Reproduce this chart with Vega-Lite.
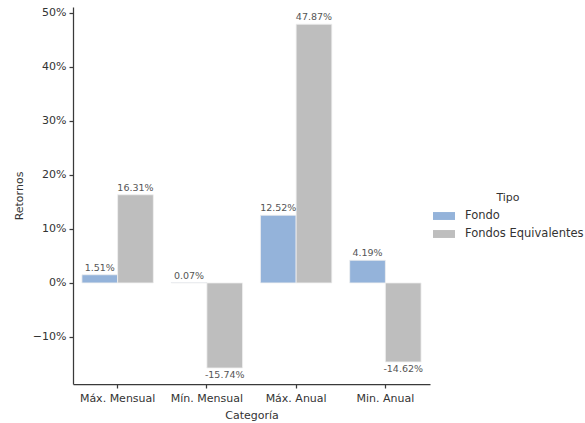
{
  "$schema": "https://vega.github.io/schema/vega-lite/v6.json",
  "width": 357,
  "height": 377,
  "autosize": {"type": "none"},
  "padding": {"left": 73, "top": 7, "right": 155, "bottom": 39},
  "background": "white",
  "config": {
    "font": "DejaVu Sans",
    "view": {"stroke": null},
    "axis": {"grid": false}
  },
  "data": {
    "values": [
      {"Categoria": "Máx. Mensual", "Tipo": "Fondo", "Retorno": 1.51},
      {"Categoria": "Máx. Mensual", "Tipo": "Fondos Equivalentes", "Retorno": 16.31},
      {"Categoria": "Mín. Mensual", "Tipo": "Fondo", "Retorno": 0.07},
      {"Categoria": "Mín. Mensual", "Tipo": "Fondos Equivalentes", "Retorno": -15.74},
      {"Categoria": "Máx. Anual", "Tipo": "Fondo", "Retorno": 12.52},
      {"Categoria": "Máx. Anual", "Tipo": "Fondos Equivalentes", "Retorno": 47.87},
      {"Categoria": "Min. Anual", "Tipo": "Fondo", "Retorno": 4.19},
      {"Categoria": "Min. Anual", "Tipo": "Fondos Equivalentes", "Retorno": -14.62}
    ]
  },
  "transform": [
    {"calculate": "toString(datum.Retorno) + '%'", "as": "label"}
  ],
  "encoding": {
    "x": {
      "field": "Categoria",
      "type": "nominal",
      "sort": ["Máx. Mensual", "Mín. Mensual", "Máx. Anual", "Min. Anual"],
      "scale": {"paddingInner": 0.2, "paddingOuter": 0.1},
      "axis": {
        "title": "Categoría",
        "labelAngle": 0,
        "labelFontSize": 11,
        "labelColor": "#333333",
        "labelPadding": 4,
        "titleFontSize": 11,
        "titleFontWeight": "normal",
        "titleColor": "#333333",
        "titlePadding": 6,
        "domainColor": "#3a3a3a",
        "domainWidth": 1.25,
        "tickColor": "#3a3a3a",
        "tickWidth": 1.25,
        "tickSize": 4
      }
    },
    "xOffset": {"field": "Tipo", "sort": ["Fondo", "Fondos Equivalentes"]},
    "y": {
      "field": "Retorno",
      "type": "quantitative",
      "scale": {"domain": [-18.7, 51.05], "nice": false, "zero": false},
      "axis": {
        "title": "Retornos",
        "values": [-10, 0, 10, 20, 30, 40, 50],
        "labelExpr": "format(datum.value, 'd') + '%'",
        "labelFontSize": 11,
        "labelColor": "#333333",
        "labelPadding": 3,
        "titleFontSize": 11,
        "titleFontWeight": "normal",
        "titleColor": "#333333",
        "titlePadding": 8,
        "domainColor": "#3a3a3a",
        "domainWidth": 1.25,
        "tickColor": "#3a3a3a",
        "tickWidth": 1.25,
        "tickSize": 4
      }
    }
  },
  "layer": [
    {
      "mark": {"type": "bar", "stroke": "#f0f0f0", "strokeWidth": 0.8},
      "encoding": {
        "y2": {"datum": 0},
        "color": {
          "field": "Tipo",
          "type": "nominal",
          "scale": {"domain": ["Fondo", "Fondos Equivalentes"], "range": ["#94b3da", "#bebebe"]},
          "legend": {
            "title": "Tipo",
            "orient": "none",
            "legendX": 360,
            "legendY": 185,
            "titleAnchor": "middle",
            "titleFontSize": 11,
            "titleFontWeight": "normal",
            "titleColor": "#333333",
            "titlePadding": 2,
            "labelFontSize": 11.5,
            "labelColor": "#333333",
            "labelOffset": 10,
            "rowPadding": 1,
            "symbolType": "M-1,-0.36L1,-0.36L1,0.36L-1,0.36Z",
            "symbolSize": 484,
            "symbolStrokeWidth": 0
          }
        }
      }
    },
    {
      "transform": [{"filter": "datum.Retorno >= 0"}],
      "mark": {"type": "text", "baseline": "bottom", "dy": -2, "fontSize": 9.5, "color": "#555555"},
      "encoding": {"text": {"field": "label"}}
    },
    {
      "transform": [{"filter": "datum.Retorno < 0"}],
      "mark": {"type": "text", "baseline": "top", "dy": 2, "fontSize": 9.5, "color": "#555555"},
      "encoding": {"text": {"field": "label"}}
    }
  ]
}
